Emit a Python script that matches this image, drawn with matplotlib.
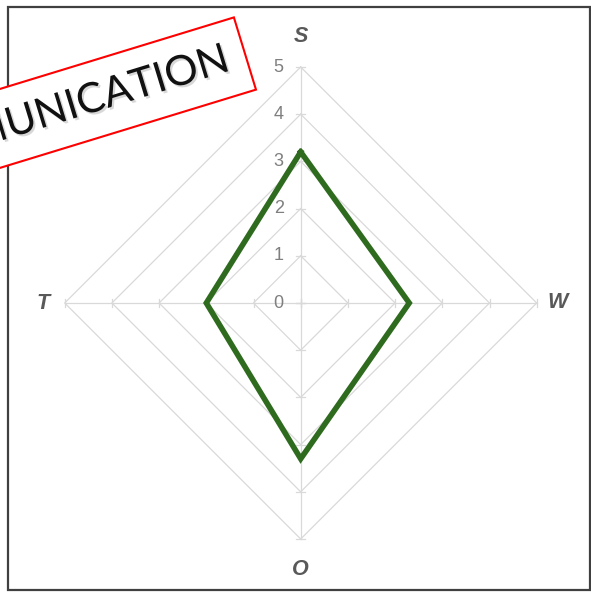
import numpy as np
import matplotlib.pyplot as plt
import matplotlib.patheffects as pe
from matplotlib.patches import Rectangle

# Data
categories = ["S", "W", "O", "T"]
values = [3.2, 2.3, 3.3, 2.0]
levels = [0, 1, 2, 3, 4, 5]
stamp_text = "COMMUNICATION"

W_PX, H_PX = 591, 592
DPI = 100
CX, CY = 300.7, 303.0      # centre in pixels (from top)
UNIT = 47.2                # pixels per data unit

GRID = "#d9d9d9"
LINE = "#2e6b1e"
LABEL = "#595959"

fig = plt.figure(figsize=(W_PX / DPI, H_PX / DPI), dpi=DPI)
ax = fig.add_axes([0, 0, 1, 1])
ax.set_xlim(-CX / UNIT, (W_PX - CX) / UNIT)
ax.set_ylim(-(H_PX - CY) / UNIT, CY / UNIT)
ax.axis("off")

# angles clockwise from top
angles = np.deg2rad(np.arange(len(categories)) * 360 / len(categories))
sx, sy = np.sin(angles), np.cos(angles)

# Grid polygons
for lv in levels[1:]:
    px = np.append(sx * lv, sx[0] * lv)
    py = np.append(sy * lv, sy[0] * lv)
    ax.plot(px, py, color=GRID, lw=0.9, zorder=1)

# Spokes and tick marks
tick = 0.09
for a, b in zip(sx, sy):
    ax.plot([0, a * levels[-1]], [0, b * levels[-1]], color=GRID, lw=0.9, zorder=1)
    for lv in levels:
        ax.plot([a * lv - b * tick, a * lv + b * tick],
                [b * lv - a * tick, b * lv + a * tick],
                color=GRID, lw=0.9, zorder=1)

# Radial labels along the top axis
for lv in levels:
    ax.text(-0.36, lv, str(lv), ha="right", va="center", fontsize=13,
            color="#7f7f7f", family="Liberation Sans", zorder=2)

# Category labels
for cat, a, b in zip(categories, sx, sy):
    r = 5.65 if abs(b) > 0.5 else 5.45
    ax.text(a * r, b * r, cat, ha="center", va="center", fontsize=15.5,
            fontweight="bold", fontstyle="italic", color=LABEL,
            family="Liberation Sans", zorder=2)

# Data polygon
vx = np.append(sx * values, sx[0] * values[0])
vy = np.append(sy * values, sy[0] * values[0])
ax.plot(vx, vy, color=LINE, lw=4.0, solid_joinstyle="miter", zorder=3)

# Frame
fig.patches.append(Rectangle((8 / W_PX, 1 - 590 / H_PX), 582 / W_PX, 583 / H_PX,
                             transform=fig.transFigure, fill=False,
                             edgecolor="#404040", lw=1.6, zorder=5))

# Rotated stamp
fig.text(227 / W_PX, 1 - 59 / H_PX, stamp_text, ha="right", va="center",
         rotation=17, rotation_mode="anchor", fontsize=30, family="Lato",
         color="#111111", zorder=10,
         path_effects=[pe.SimplePatchShadow(offset=(1.5, -1.5), shadow_rgbFace="#aaaaaa", alpha=0.45),
                       pe.Normal()],
         bbox=dict(boxstyle="square,pad=0.45", facecolor="white",
                   edgecolor="#ff0000", lw=1.5))

fig.savefig("out.png", dpi=DPI, facecolor="white")
